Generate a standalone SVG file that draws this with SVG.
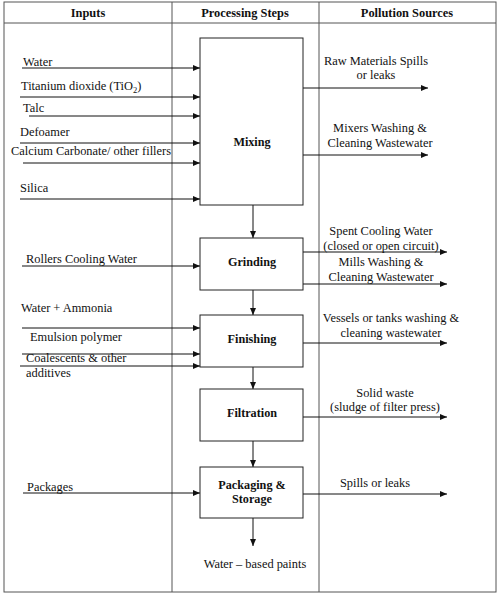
<svg xmlns="http://www.w3.org/2000/svg" width="500" height="596" viewBox="0 0 500 596">
<style>
text{font-family:"Liberation Serif","Times New Roman",serif;font-size:12.4px;fill:#111}
.h{font-weight:bold;font-size:12.4px;text-anchor:middle}
.b{font-weight:bold;font-size:12.2px;text-anchor:middle}
.m{text-anchor:middle}
.frame{fill:none;stroke:#555;stroke-width:1}
.box{fill:#fff;stroke:#222;stroke-width:1}
.c line{stroke:#111;stroke-width:1;marker-end:url(#ah)}
</style>
<defs>
<marker id="ah" markerWidth="8" markerHeight="6" refX="7" refY="3" orient="auto" markerUnits="userSpaceOnUse">
<path d="M0,0 L7,3 L0,6 z" fill="#111"/>
</marker>
</defs>
<rect width="500" height="596" fill="#fff"/>
<g id="table">
<rect class="frame" x="4" y="2" width="492" height="590"/>
<line class="frame" x1="4" y1="23" x2="496" y2="23"/>
<line class="frame" x1="172" y1="2" x2="172" y2="592"/>
<line class="frame" x1="319" y1="2" x2="319" y2="592"/>
<text class="h" x="88" y="17">Inputs</text>
<text class="h" x="245" y="17">Processing Steps</text>
<text class="h" x="407" y="17">Pollution Sources</text>
</g>
<g id="connectors" class="c">
<line x1="22" y1="68" x2="200" y2="68"/>
<line x1="20" y1="97" x2="200" y2="97"/>
<line x1="29" y1="116" x2="200" y2="116"/>
<line x1="20" y1="143" x2="200" y2="143"/>
<line x1="23" y1="163" x2="200" y2="163"/>
<line x1="20" y1="199" x2="200" y2="199"/>
<line x1="303" y1="88" x2="428" y2="88"/>
<line x1="303" y1="155" x2="428" y2="155"/>
<line x1="253" y1="205" x2="253" y2="238"/>
<line x1="22" y1="266" x2="200" y2="266"/>
<line x1="303" y1="252" x2="447" y2="252"/>
<line x1="303" y1="284" x2="447" y2="284"/>
<line x1="253" y1="290" x2="253" y2="315"/>
<line x1="22" y1="328" x2="200" y2="328"/>
<line x1="22" y1="354" x2="200" y2="354"/>
<line x1="20" y1="366" x2="200" y2="366"/>
<line x1="303" y1="343" x2="447" y2="343"/>
<line x1="253" y1="367" x2="253" y2="389"/>
<line x1="303" y1="417" x2="447" y2="417"/>
<line x1="253" y1="441" x2="253" y2="467"/>
<line x1="23" y1="493" x2="200" y2="493"/>
<line x1="303" y1="494" x2="447" y2="494"/>
<line x1="253" y1="518" x2="253" y2="546"/>
</g>
<g id="mixing">
<rect class="box" x="200" y="38" width="103" height="167"/>
<text class="b" x="252" y="146">Mixing</text>
</g>
<g id="grinding">
<rect class="box" x="200" y="238" width="103" height="52"/>
<text class="b" x="252" y="266">Grinding</text>
</g>
<g id="finishing">
<rect class="box" x="200" y="315" width="103" height="52"/>
<text class="b" x="252" y="343">Finishing</text>
</g>
<g id="filtration">
<rect class="box" x="200" y="389" width="103" height="52"/>
<text class="b" x="252" y="417">Filtration</text>
</g>
<g id="packaging">
<rect class="box" x="200" y="467" width="103" height="51"/>
<text class="b" x="252" y="489">Packaging &amp;</text>
<text class="b" x="252" y="503">Storage</text>
</g>
<g id="inputs">
<text x="23" y="66">Water</text>
<text x="21" y="90">Titanium dioxide (TiO<tspan font-size="8.5" dy="3">2</tspan><tspan dy="-3">)</tspan></text>
<text x="23" y="112">Talc</text>
<text x="20" y="136">Defoamer</text>
<text x="11" y="155">Calcium Carbonate/ other fillers</text>
<text x="20" y="192">Silica</text>
<text x="26" y="263">Rollers Cooling Water</text>
<text x="21" y="312">Water + Ammonia</text>
<text x="30" y="341">Emulsion polymer</text>
<text x="26" y="362">Coalescents &amp; other</text>
<text x="26" y="377">additives</text>
<text x="27" y="491">Packages</text>
</g>
<g id="outputs">
<text class="m" x="376" y="65">Raw Materials Spills</text>
<text class="m" x="376" y="79">or leaks</text>
<text class="m" x="380" y="132">Mixers Washing &amp;</text>
<text class="m" x="380" y="147">Cleaning Wastewater</text>
<text class="m" x="381" y="235">Spent Cooling Water</text>
<text class="m" x="381" y="250">(closed or open circuit)</text>
<text class="m" x="381" y="266">Mills Washing &amp;</text>
<text class="m" x="381" y="281">Cleaning Wastewater</text>
<text class="m" x="391" y="322">Vessels or tanks washing &amp;</text>
<text class="m" x="391" y="337">cleaning wastewater</text>
<text class="m" x="385" y="397">Solid waste</text>
<text class="m" x="385" y="411">(sludge of filter press)</text>
<text class="m" x="375" y="487">Spills or leaks</text>
<text class="m" x="255" y="568">Water – based paints</text>
</g>
</svg>
